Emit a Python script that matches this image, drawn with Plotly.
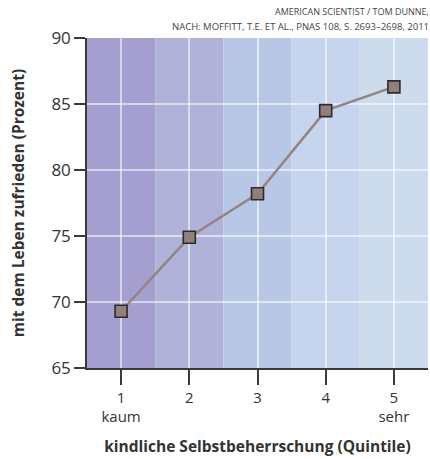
import plotly.graph_objects as go

# Quintile categories and life-satisfaction share per quintile
quintiles = [1, 2, 3, 4, 5]
tick_labels = ["1<br>kaum", "2", "3", "4", "5<br>sehr"]
zufrieden = [69.3, 74.9, 78.2, 84.5, 86.3]
band_colors = ["#a59fcf", "#b0b2da", "#b9c7e7", "#c6d4ee", "#ccdcec"]
credit_lines = ["AMERICAN SCIENTIST / TOM DUNNE,",
                "NACH: MOFFITT, T.E. ET AL., PNAS 108, S. 2693–2698, 2011"]

fig = go.Figure()

# Coloured background band for each quintile
for q, c in zip(quintiles, band_colors):
    fig.add_shape(type="rect", xref="x", yref="paper",
                  x0=q - 0.5, x1=q + 0.5, y0=0, y1=1,
                  fillcolor=c, line_width=0, layer="below")

fig.add_trace(go.Scatter(
    x=quintiles, y=zufrieden, mode="lines+markers",
    line=dict(color="#938580", width=2.5),
    marker=dict(symbol="square", size=12, color="#8f807b",
                line=dict(color="#2f2a2a", width=1.6)),
    hoverinfo="x+y", showlegend=False,
))

font_family = "Open Sans, Noto Sans, sans-serif"

fig.update_xaxes(
    range=[0.5, 5.5], tickvals=quintiles, ticktext=tick_labels,
    showgrid=True, gridcolor="rgba(255,255,255,0.55)", gridwidth=1.5,
    showline=True, linecolor="#3a3a3a", linewidth=1.5,
    ticks="outside", ticklen=15, tickwidth=1.5, tickcolor="#3a3a3a",
    tickfont=dict(size=15, color="#333", family=font_family),
    title=dict(text="<b>kindliche Selbstbeherrschung (Quintile)</b>",
               font=dict(size=15.5, color="#333", family=font_family),
               standoff=16),
    zeroline=False, fixedrange=True,
)
fig.update_yaxes(
    range=[65, 90], tickvals=[65, 70, 75, 80, 85, 90],
    showgrid=True, gridcolor="rgba(255,255,255,0.55)", gridwidth=1.5,
    showline=True, linecolor="#3a3a3a", linewidth=1.5,
    ticks="outside", ticklen=11, tickwidth=1.5, tickcolor="#3a3a3a",
    tickfont=dict(size=17, color="#333", family=font_family),
    title=dict(text="<b>mit dem Leben zufrieden (Prozent)</b>",
               font=dict(size=15.5, color="#333", family=font_family),
               standoff=23),
    zeroline=False, fixedrange=True,
)

# Two-line source credit above the plot, right-aligned
for i, line in enumerate(credit_lines):
    fig.add_annotation(
        text=line, xref="paper", yref="paper", x=1, y=1,
        xanchor="right", yanchor="bottom", yshift=3 + (1 - i) * 15,
        xshift=3, showarrow=False,
        font=dict(size=9.5 if i else 9, color="#444", family=font_family),
    )

fig.update_layout(
    width=430, height=459,
    margin=dict(l=87, r=2, t=38, b=91),
    paper_bgcolor="white", plot_bgcolor="white",
)

fig.write_html("out.html")
